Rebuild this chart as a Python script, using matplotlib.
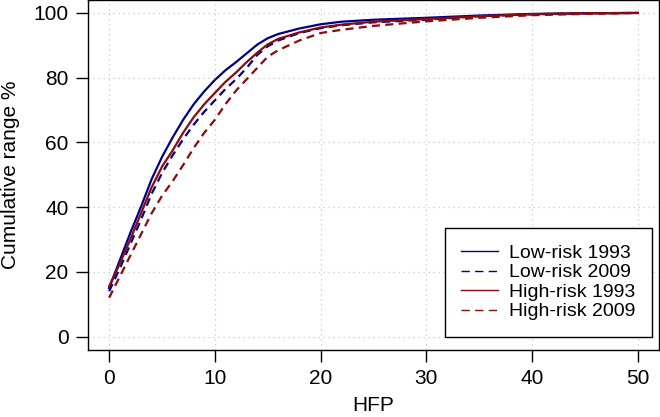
import matplotlib
matplotlib.use("Agg")
import matplotlib.pyplot as plt
from matplotlib.lines import Line2D

plt.rcParams['font.family'] = ['Liberation Sans', 'DejaVu Sans']

hfp = [0, 1, 2, 3, 4, 5, 6, 7, 8, 9, 10, 11, 12, 13, 14, 15, 16, 18, 20, 22, 25, 30, 35, 40, 45, 50]
low_1993 = [15, 23.5, 32, 40, 48.5, 55.5, 61.5, 67, 71.8, 75.8, 79.3, 82.3, 84.8, 87.5, 90.2, 92.2, 93.5, 95.2, 96.5, 97.3, 97.9, 98.5, 99.2, 99.7, 99.9, 100]
low_2009 = [14, 21, 28.5, 36, 44, 50.5, 56, 61, 65.5, 69.5, 73, 76.5, 79.5, 83, 87, 89.7, 91.5, 93.8, 95.3, 96.2, 97.1, 97.9, 99.0, 99.6, 99.9, 100]
high_1993 = [15.5, 22.5, 30, 38, 46, 52.5, 57.5, 63, 67.8, 71.8, 75.3, 78.7, 81.6, 84.8, 87.7, 90.3, 92, 94, 95.5, 96.4, 97.3, 98.1, 99.0, 99.6, 99.9, 100]
high_2009 = [12, 18.5, 25, 31.5, 38, 43.5, 48, 53, 58.3, 63, 67, 71.8, 76, 79.5, 83, 86.5, 88.5, 91.5, 93.8, 94.8, 96.0, 97.4, 98.5, 99.3, 99.7, 100]

labels = ["Low-risk 1993", "Low-risk 2009", "High-risk 1993", "High-risk 2009"]
xticks = [0, 10, 20, 30, 40, 50]
yticks = [0, 20, 40, 60, 80, 100]

blue = "#00008B"
red = "#8B0A0A"

fig = plt.figure(figsize=(6.6, 4.17), dpi=100)
ax = fig.add_axes([88/660, 1 - 349.5/417, 571/660, 349.5/417])

series = [low_1993, low_2009, high_1993, high_2009]
colors = [blue, blue, red, red]
dashed = [False, True, False, True]
for ys, c, d in zip(series, colors, dashed):
    ax.plot(hfp, ys, color=c, linestyle=((0, (3.6, 2.4)) if d else '-'),
            linewidth=1.6, solid_joinstyle='round', dash_capstyle='butt')

ax.set_xlim(-2, 52)
ax.set_ylim(-4, 104)
ax.set_xticks(xticks)
ax.set_yticks(yticks)
ax.grid(True, color="#C8C8C8", linestyle=(0, (1, 3)), linewidth=0.9)
ax.tick_params(direction='out', length=8.4, width=1, labelsize=15, pad=5.5)
for s in ax.spines.values():
    s.set_linewidth(1)
ax.set_xlabel("HFP", fontsize=15, labelpad=6)
ax.set_ylabel("Cumulative range %", fontsize=15, labelpad=10)

handles = [Line2D([], [], color=c, linestyle=((0, (6, 3.8)) if d else '-'), linewidth=1.0)
           for c, d in zip(colors, dashed)]
leg = ax.legend(handles, labels, loc='lower right', bbox_to_anchor=(0.9877, 0.0358),
                borderaxespad=0, fontsize=14, frameon=True, fancybox=False,
                edgecolor='black', handlelength=1.9, handletextpad=0.55,
                labelspacing=0.1, borderpad=0.85)
leg.get_frame().set_linewidth(1)
leg.get_frame().set_alpha(1)

fig.savefig("out.png", dpi=100)
